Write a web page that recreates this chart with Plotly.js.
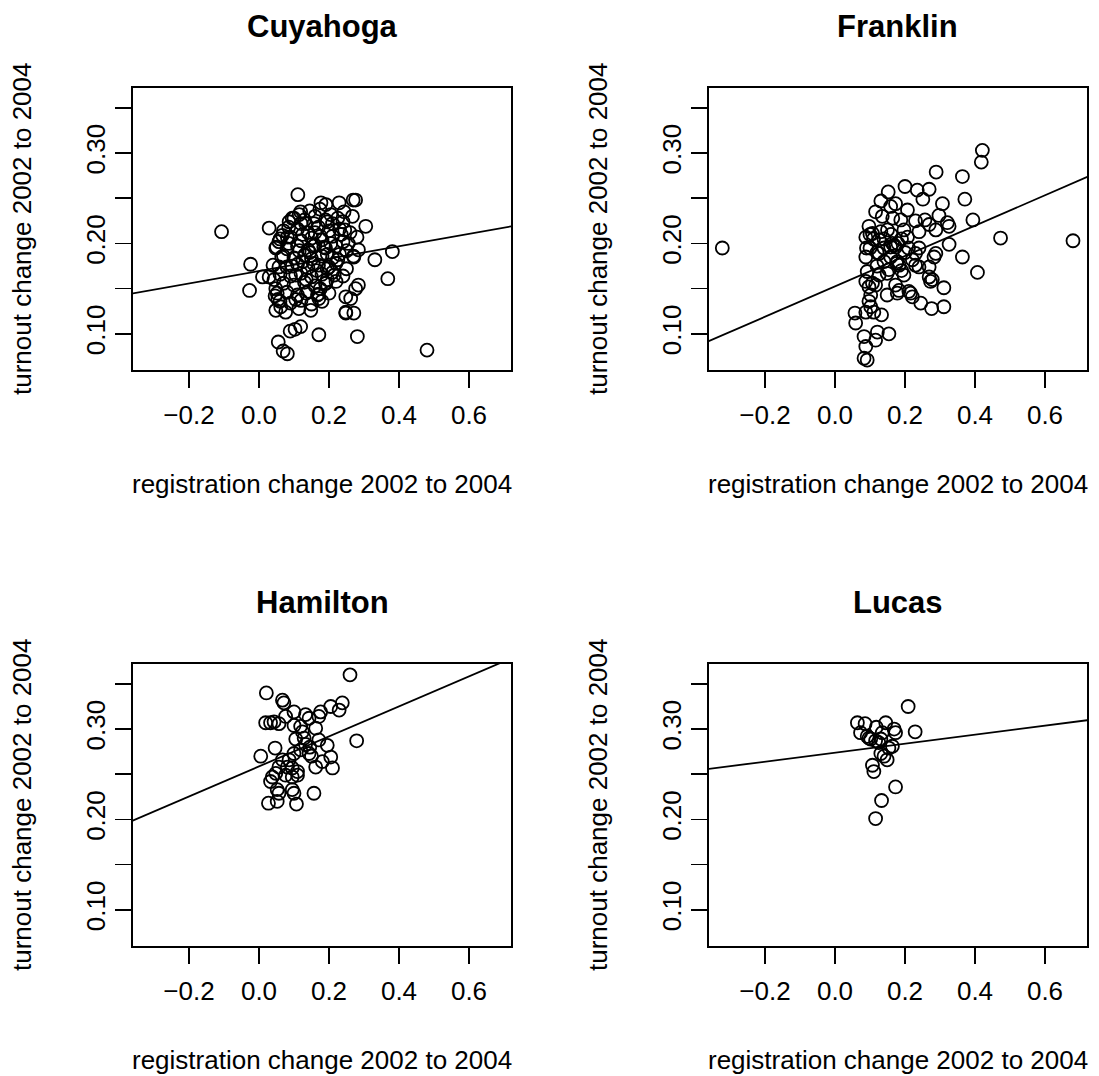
<!DOCTYPE html>
<html>
<head>
<meta charset="utf-8">
<script src="https://cdn.plot.ly/plotly-3.0.1.min.js"></script>
<style>html,body{margin:0;padding:0;background:#fff;}#chart{width:1099px;height:1076px;}</style>
</head>
<body>
<div id="chart"></div>
<script>
// ---- data ----
const panelNames = ["Cuyahoga", "Franklin", "Hamilton", "Lucas"];
const xLabel = "registration change 2002 to 2004";
const yLabel = "turnout change 2002 to 2004";
const xTickVals = [-0.2, 0.0, 0.2, 0.4, 0.6];
const xTickText = ["\u22120.2", "0.0", "0.2", "0.4", "0.6"];
const yTickVals = [0.10, 0.15, 0.20, 0.25, 0.30, 0.35];
const yTickText = ["0.10", "", "0.20", "", "0.30", ""];

const cuyahogaX = [-0.107,-0.024,-0.027,0.029,0.111,0.381,0.331,0.368,0.281,0.171,0.055,0.081,0.069,0.480,
  0.276,0.269,0.177,0.191,0.174,0.229,0.243,0.267,0.305,0.284,0.271,0.276,0.284,0.262,0.248,0.271,0.148,0.119,0.103,0.089,0.048,0.062,0.076,
  0.119,0.095,0.086,0.048,0.067,0.081,0.133,0.157,0.195,0.057,
  0.029,0.043,0.057,0.048,0.052,0.114,0.167,0.171,0.195,0.191,0.248,0.248,0.010,0.046,0.054,
  0.10,0.13,0.16,0.19,0.21,0.24,
  0.07,0.11,0.14,0.17,0.20,0.23,0.26,
  0.06,0.09,0.12,0.15,0.18,0.21,0.24,0.28,
  0.05,0.08,0.11,0.14,0.16,0.19,0.22,0.25,
  0.07,0.10,0.13,0.15,0.18,0.21,0.23,0.27,
  0.04,0.08,0.11,0.14,0.17,0.20,0.22,0.25,
  0.06,0.09,0.12,0.15,0.18,0.21,0.24,
  0.07,0.10,0.13,0.16,0.19,0.22,
  0.08,0.11,0.14,0.17,0.20,
  0.06,0.09,0.12,0.15,0.18,
  0.115,0.145,0.205,0.225,0.085,0.125,0.155,0.175,0.195,0.235,0.255,0.125,0.165,0.195,0.095,0.135,
  0.175,0.215,0.105,0.145,0.185,0.225,0.115,0.085,0.065,0.155,0.205,0.245,0.135,0.105,0.160,0.120];
const cuyahogaY = [0.213,0.177,0.148,0.217,0.254,0.191,0.182,0.161,0.097,0.099,0.091,0.078,0.081,0.082,
  0.248,0.248,0.245,0.243,0.238,0.245,0.235,0.230,0.219,0.193,0.185,0.150,0.154,0.139,0.123,0.123,0.126,0.108,0.105,0.103,0.126,0.130,0.124,
  0.235,0.228,0.224,0.195,0.209,0.207,0.222,0.222,0.224,0.202,
  0.163,0.160,0.174,0.150,0.145,0.128,0.143,0.139,0.160,0.156,0.141,0.124,0.163,0.142,0.138,
  0.228,0.226,0.230,0.226,0.222,0.224,
  0.214,0.216,0.212,0.218,0.214,0.216,0.212,
  0.205,0.207,0.203,0.206,0.204,0.208,0.202,0.207,
  0.196,0.194,0.197,0.193,0.198,0.195,0.197,0.192,
  0.186,0.184,0.187,0.183,0.186,0.184,0.188,0.186,
  0.176,0.174,0.177,0.173,0.176,0.174,0.178,0.172,
  0.166,0.164,0.167,0.163,0.166,0.168,0.164,
  0.156,0.154,0.157,0.153,0.156,0.158,
  0.146,0.143,0.147,0.144,0.145,
  0.136,0.134,0.137,0.133,0.136,
  0.232,0.236,0.232,0.228,0.218,0.210,0.197,0.208,0.188,0.210,0.200,0.180,0.170,0.172,0.175,0.160,
  0.150,0.165,0.165,0.190,0.196,0.182,0.192,0.200,0.185,0.178,0.200,0.215,0.145,0.138,0.212,0.222];

const franklinX = [-0.322,0.680,0.473,0.421,0.418,0.289,0.364,0.200,0.235,0.269,0.251,0.152,0.371,0.307,0.131,0.173,0.159,0.207,0.297,0.116,0.135,0.394,
  0.257,0.269,0.240,0.288,0.321,0.326,0.188,0.197,0.207,0.097,0.088,0.107,0.131,0.126,0.164,0.169,0.159,0.173,0.326,0.288,0.283,0.230,0.221,
  0.088,0.126,0.159,0.178,0.183,0.364,0.407,0.230,0.240,0.269,0.269,0.278,0.273,0.092,0.088,0.107,0.116,0.097,0.126,0.149,0.173,0.183,0.178,
  0.216,0.221,0.149,0.311,0.245,0.276,0.311,0.097,0.102,0.111,0.057,0.059,0.088,0.133,0.083,0.121,0.154,0.116,0.088,0.083,0.092,0.102,
  0.154,0.197,0.211,0.176,0.190,0.14,0.19,0.15,0.12,0.14,0.21,0.24,0.10,0.165,0.23,
  0.09,0.10,0.11,0.12,0.14,0.16,0.18,0.20];
const franklinY = [0.195,0.203,0.206,0.303,0.290,0.279,0.274,0.263,0.259,0.260,0.249,0.257,0.249,0.244,0.247,0.244,0.241,0.237,0.231,0.235,0.230,0.226,
  0.226,0.221,0.213,0.215,0.223,0.219,0.226,0.215,0.207,0.219,0.207,0.211,0.213,0.204,0.200,0.198,0.196,0.196,0.199,0.189,0.185,0.189,0.182,
  0.185,0.189,0.185,0.180,0.176,0.185,0.168,0.176,0.174,0.174,0.163,0.160,0.158,0.169,0.158,0.156,0.154,0.152,0.165,0.167,0.154,0.148,0.145,
  0.145,0.141,0.143,0.151,0.134,0.128,0.130,0.136,0.130,0.124,0.123,0.112,0.124,0.121,0.097,0.102,0.100,0.093,0.086,0.073,0.071,0.143,
  0.171,0.165,0.147,0.178,0.170,0.205,0.205,0.215,0.175,0.180,0.195,0.195,0.195,0.228,0.225,
  0.195,0.210,0.205,0.190,0.195,0.210,0.200,0.190];

const hamiltonX = [0.260,0.021,0.067,0.071,0.238,0.229,0.205,0.176,0.171,0.100,0.133,0.143,0.019,0.033,0.043,0.057,0.076,0.100,0.119,0.124,0.162,
  0.279,0.005,0.046,0.171,0.195,0.205,0.210,0.181,0.162,0.105,0.129,0.133,0.119,0.143,0.100,0.086,0.067,0.057,0.081,0.095,0.110,
  0.048,0.038,0.033,0.076,0.095,0.110,0.052,0.057,0.095,0.100,0.157,0.027,0.052,0.107,0.145,0.150];
const hamiltonY = [0.360,0.340,0.332,0.329,0.329,0.321,0.325,0.319,0.314,0.319,0.316,0.312,0.307,0.307,0.308,0.306,0.314,0.304,0.303,0.297,0.301,
  0.287,0.270,0.279,0.288,0.282,0.269,0.257,0.264,0.258,0.289,0.290,0.283,0.277,0.273,0.273,0.266,0.266,0.258,0.258,0.257,0.253,
  0.251,0.247,0.242,0.249,0.247,0.249,0.233,0.229,0.233,0.229,0.229,0.218,0.220,0.217,0.280,0.270];

const lucasX = [0.209,0.064,0.086,0.145,0.118,0.169,0.229,0.073,0.092,0.135,0.173,0.102,0.116,0.131,0.097,0.154,0.164,0.131,0.140,0.149,0.107,0.111,0.173,0.133,0.116,0.125];
const lucasY = [0.325,0.307,0.306,0.307,0.302,0.300,0.297,0.296,0.292,0.296,0.296,0.289,0.287,0.289,0.290,0.279,0.281,0.273,0.270,0.266,0.260,0.253,0.236,0.221,0.201,0.285];

// fitted line coefficients
const lineIntercept = [0.1695, 0.1525, 0.2587, 0.2739];
const lineSlope = [0.0686, 0.168, 0.166, 0.0498];

// ---- layout ----
const W = 1099, H = 1076;
const xRange = [-0.36, 0.72], yRange = [0.06, 0.372];
const colPx = [[133, 511], [709, 1087]];
const rowPx = [[88, 370], [664, 946]];
const fontFam = "Liberation Sans, Arial, Helvetica, sans-serif";
const seriesX = [cuyahogaX, franklinX, hamiltonX, lucasX];
const seriesY = [cuyahogaY, franklinY, hamiltonY, lucasY];

const data = [], annotations = [];
const layout = {
  width: W, height: H, margin: {l: 0, r: 0, t: 0, b: 0},
  paper_bgcolor: "#fff", plot_bgcolor: "#fff", showlegend: false,
  font: {family: fontFam, color: "#000", size: 26}
};
for (let i = 0; i < 4; i++) {
  const c = i % 2, r = Math.floor(i / 2);
  const xa = "x" + (i ? i + 1 : ""), ya = "y" + (i ? i + 1 : "");
  const xd = [colPx[c][0] / W, colPx[c][1] / W];
  const yd = [1 - rowPx[r][1] / H, 1 - rowPx[r][0] / H];
  layout["xaxis" + (i ? i + 1 : "")] = {
    domain: xd, range: xRange, anchor: ya, showgrid: false, zeroline: false,
    showline: true, mirror: true, linecolor: "#000", linewidth: 1.6,
    ticks: "outside", ticklen: 16, tickwidth: 1.6, tickcolor: "#000",
    tickvals: xTickVals, ticktext: xTickText, ticklabelstandoff: 5,
    tickfont: {family: fontFam, size: 26, color: "#000"}
  };
  layout["yaxis" + (i ? i + 1 : "")] = {
    domain: yd, range: yRange, anchor: xa, showgrid: false, zeroline: false,
    showline: true, mirror: true, linecolor: "#000", linewidth: 1.6,
    ticks: "outside", ticklen: 16, tickwidth: 1.6, tickcolor: "#000",
    tickvals: yTickVals, ticktext: yTickText, tickangle: -90, ticklabelstandoff: 0,
    tickfont: {family: fontFam, size: 26, color: "#000"}
  };
  data.push({
    type: "scatter", mode: "markers", x: seriesX[i], y: seriesY[i], xaxis: xa, yaxis: ya,
    marker: {symbol: "circle-open", size: 13, color: "#000", line: {width: 1.8, color: "#000"}},
    hoverinfo: "x+y"
  });
  const lx = [xRange[0] - 0.05, xRange[1] + 0.05];
  data.push({
    type: "scatter", mode: "lines", x: lx, y: lx.map(v => lineIntercept[i] + lineSlope[i] * v),
    xaxis: xa, yaxis: ya, line: {color: "#000", width: 1.8}, hoverinfo: "skip"
  });
  const cx = (xd[0] + xd[1]) / 2, cy = (yd[0] + yd[1]) / 2;
  annotations.push({
    text: panelNames[i], xref: "paper", yref: "paper", x: cx, y: 1 - (27 + 576 * r) / H,
    xanchor: "center", yanchor: "middle", showarrow: false,
    font: {family: fontFam, size: 31, color: "#000", weight: "bold"}
  });
  annotations.push({
    text: xLabel, xref: "paper", yref: "paper", x: cx, y: 1 - (484 + 576 * r) / H,
    xanchor: "center", yanchor: "middle", showarrow: false,
    font: {family: fontFam, size: 26, color: "#000"}
  });
  annotations.push({
    text: yLabel, xref: "paper", yref: "paper", x: (22 + 576 * c) / W, y: cy,
    xanchor: "center", yanchor: "middle", showarrow: false, textangle: -90,
    font: {family: fontFam, size: 26, color: "#000"}
  });
}
layout.annotations = annotations;
Plotly.newPlot("chart", data, layout, {staticPlot: true});
</script>
</body>
</html>
